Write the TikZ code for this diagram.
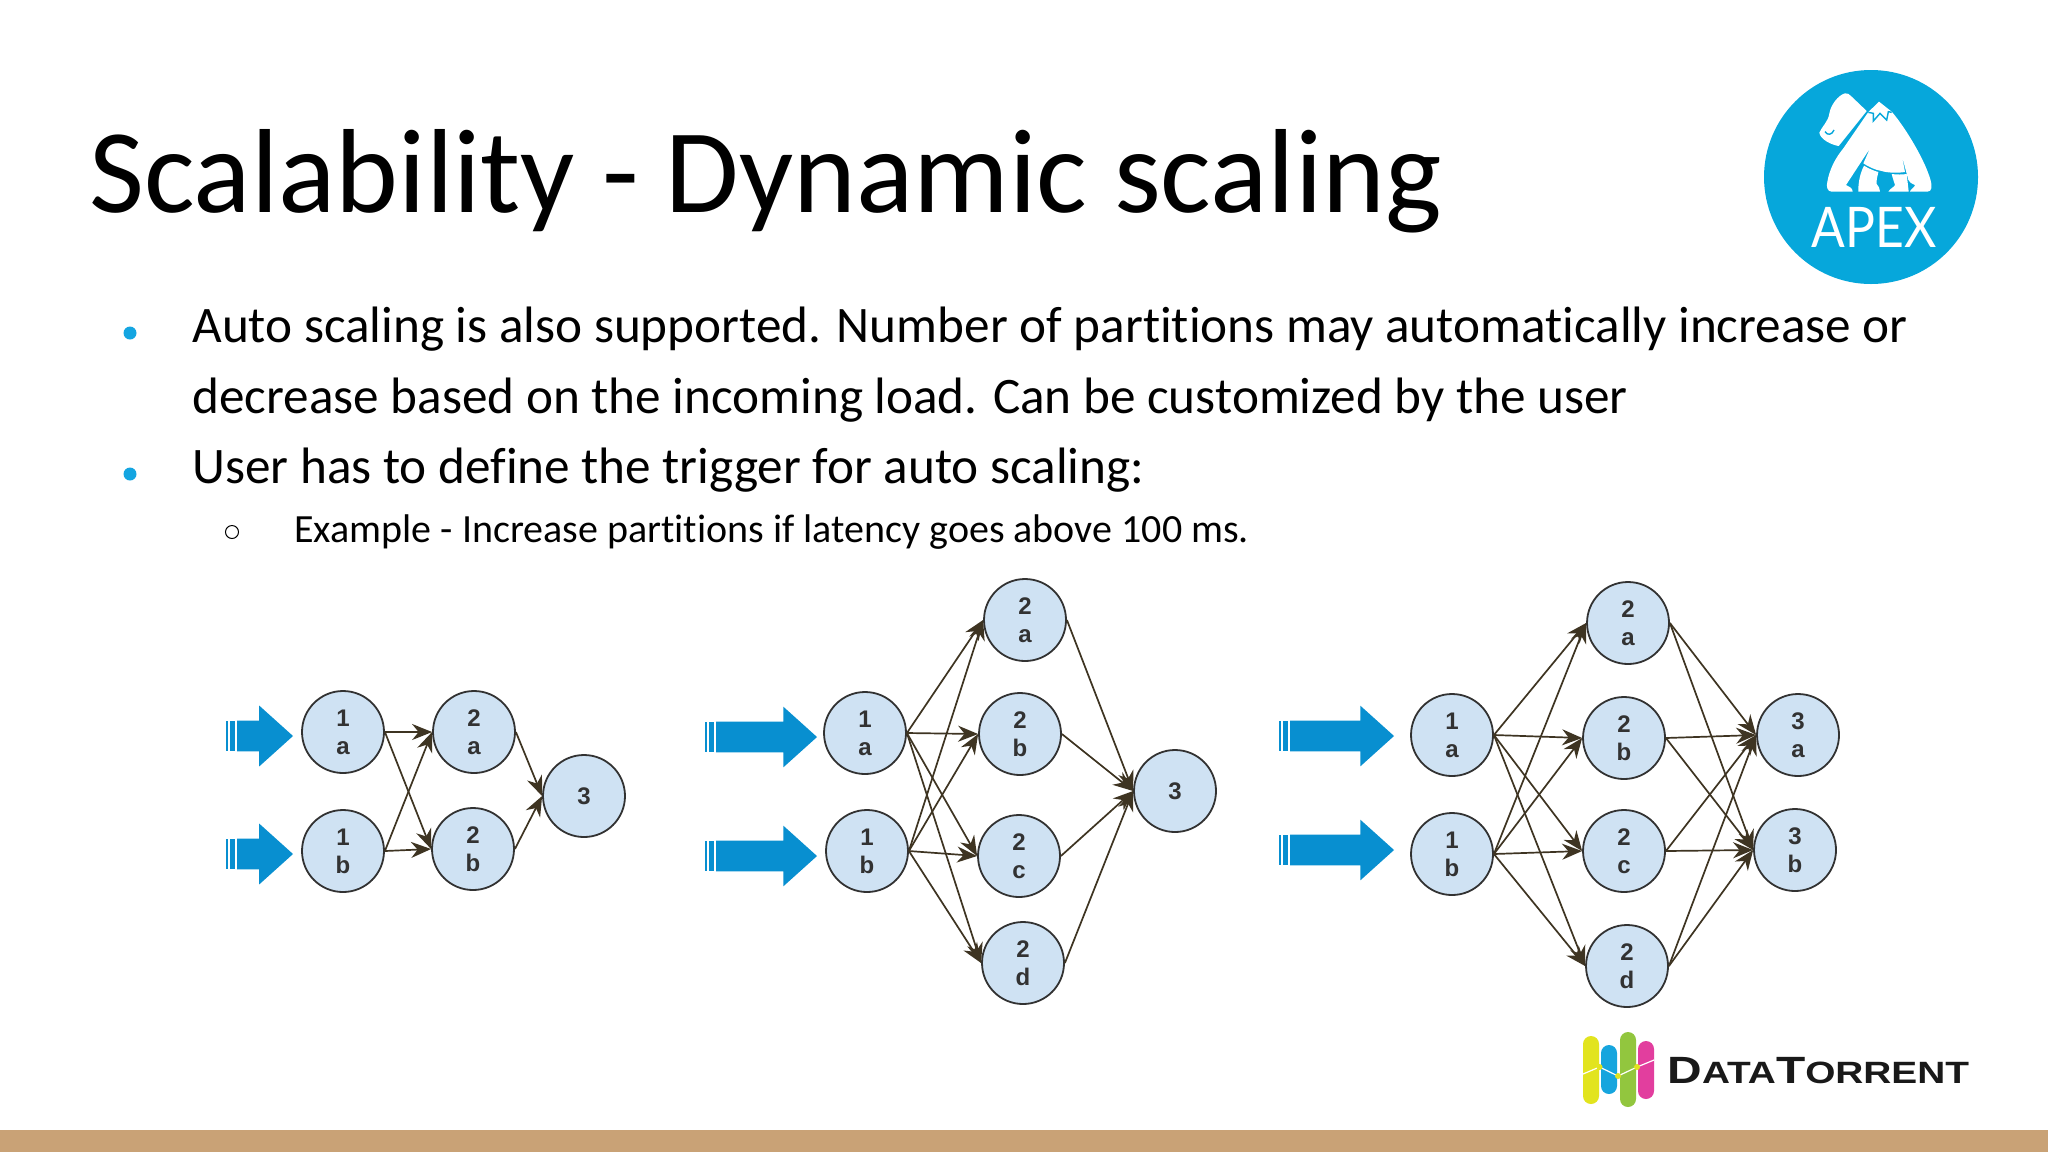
\documentclass[tikz,border=0pt]{standalone}
\usepackage{fontspec}
\setmainfont{Carlito}[Ligatures=NoCommon]
\newfontfamily\circlefont{Liberation Sans}
\newfontfamily\apexfont{Lato}
\usepackage{xcolor}
\usepackage{tikz}
\usetikzlibrary{positioning,arrows.meta,shapes.arrows}
\definecolor{footbrown}{RGB}{201,162,118}
\definecolor{apexblue}{RGB}{6,167,219}
\definecolor{bulletblue}{RGB}{20,165,225}
\definecolor{inflowblue}{RGB}{8,143,208}
\definecolor{nodeblue}{RGB}{207,226,243}
\definecolor{nodeline}{RGB}{50,50,50}
\definecolor{edgebrown}{RGB}{62,52,34}
\definecolor{dtyellow}{RGB}{226,228,30}
\definecolor{dtblue}{RGB}{22,165,222}
\definecolor{dtgreen}{RGB}{146,198,62}
\definecolor{dtpink}{RGB}{226,62,158}
\newcommand{\dtbig}{\fontsize{19}{19}\selectfont}
\newcommand{\dtsmall}{\fontsize{15.4}{15.4}\selectfont}

\begin{document}
\begin{tikzpicture}[
        x=0.5pt, y=-0.5pt,
        titletext/.style={anchor=base west, inner sep=0pt, font=\fontsize{59.8}{60}\selectfont},
        bodytext/.style={anchor=base west, inner sep=0pt, font=\fontsize{25.6}{25.6}\selectfont},
        subtext/.style={anchor=base west, inner sep=0pt, font=\fontsize{20}{20}\selectfont},
        bullet/.style={circle, fill=bulletblue, inner sep=0pt, minimum size=6.5pt},
        subbullet/.style={circle, draw=black, line width=0.5pt, inner sep=0pt, minimum size=6.5pt},
        stage/.style={circle, draw=nodeline, fill=nodeblue, line width=0.9pt, inner sep=0pt, minimum size=41pt,
                     align=center, text=nodeline, font=\circlefont\bfseries\fontsize{12}{14}\selectfont},
        inflow/.style={single arrow, fill=inflowblue, inner sep=0pt, outer sep=0pt, text height=15pt, text depth=0pt,
                      single arrow head extend=7.5pt, single arrow tip angle=84, anchor=tail},
        stripes/.style={rectangle, fill=inflowblue, inner sep=0pt, outer sep=0pt, minimum width=4.4pt, minimum height=15pt,
                       path picture={\draw[white, line width=0.9pt] ([xshift=1.3pt]path picture bounding box.north west) -- ([xshift=1.3pt]path picture bounding box.south west);}},
        flow/.style={-{Stealth[length=10pt,width=8pt]}, line width=0.85pt, draw=edgebrown}
    ]
        \useasboundingbox (0,0) rectangle (2048,1152);
        \fill[white] (0,0) rectangle (2048,1152);
        \fill[footbrown] (0,1130) rectangle (2048,1152);

        % slide text
        \node[titletext] (title) at (89,212) {Scalability - Dynamic scaling};
        \node[bullet] (bulletone) at (130,333) {};
        \node[bodytext] (lineone) at (192,342) {Auto scaling is also supported. Number of partitions may automatically increase or};
        \node[bodytext] (linetwo) at (192,413) {decrease based on the incoming load. Can be customized by the user};
        \node[bullet] (bullettwo) at (130,474) {};
        \node[bodytext] (linethree) at (192,483) {User has to define the trigger for auto scaling:};
        \node[subbullet] (bulletthree) at (232,532) {};
        \node[subtext] (linefour) at (294,542) {Example - Increase partitions if latency goes above 100 ms.};

        % first graph
        \node[stage] (sonea) at (343,732) {1\\a};
        \node[stage] (soneb) at (343,851) {1\\b};
        \node[stage] (stwoa) at (474,732) {2\\a};
        \node[stage] (stwob) at (473,849) {2\\b};
        \node[stage] (sthree) at (584,796) {3};
        \node[inflow, minimum height=28pt] (sina) at (237,736) {};
        \node[inflow, minimum height=28pt] (sinb) at (237,854) {};
        \node[stripes, left=1pt of sina.tail] (sbara) {};
        \node[stripes, left=1pt of sinb.tail] (sbarb) {};
        \draw[flow] (sonea.east) -- (stwoa.west);
        \draw[flow] (sonea.east) -- (stwob.west);
        \draw[flow] (soneb.east) -- (stwoa.west);
        \draw[flow] (soneb.east) -- (stwob.west);
        \draw[flow] (stwoa.east) -- (sthree.west);
        \draw[flow] (stwob.east) -- (sthree.west);

        % second graph
        \node[stage] (monea) at (865,733) {1\\a};
        \node[stage] (moneb) at (867,851) {1\\b};
        \node[stage] (mtwoa) at (1025,620) {2\\a};
        \node[stage] (mtwob) at (1020,734) {2\\b};
        \node[stage] (mtwoc) at (1019,856) {2\\c};
        \node[stage] (mtwod) at (1023,963) {2\\d};
        \node[stage] (mthree) at (1175,791) {3};
        \node[inflow, minimum height=50.5pt] (mina) at (716,737) {};
        \node[inflow, minimum height=50.5pt] (minb) at (716,856) {};
        \node[stripes, left=1pt of mina.tail] (mbara) {};
        \node[stripes, left=1pt of minb.tail] (mbarb) {};
        \draw[flow] (monea.east) -- (mtwoa.west);
        \draw[flow] (monea.east) -- (mtwob.west);
        \draw[flow] (monea.east) -- (mtwoc.west);
        \draw[flow] (monea.east) -- (mtwod.west);
        \draw[flow] (moneb.east) -- (mtwoa.west);
        \draw[flow] (moneb.east) -- (mtwob.west);
        \draw[flow] (moneb.east) -- (mtwoc.west);
        \draw[flow] (moneb.east) -- (mtwod.west);
        \draw[flow] (mtwoa.east) -- (mthree.west);
        \draw[flow] (mtwob.east) -- (mthree.west);
        \draw[flow] (mtwoc.east) -- (mthree.west);
        \draw[flow] (mtwod.east) -- (mthree.west);

        % third graph
        \node[stage] (lonea) at (1452,735) {1\\a};
        \node[stage] (loneb) at (1452,854) {1\\b};
        \node[stage] (ltwoa) at (1628,623) {2\\a};
        \node[stage] (ltwob) at (1624,738) {2\\b};
        \node[stage] (ltwoc) at (1624,851) {2\\c};
        \node[stage] (ltwod) at (1627,966) {2\\d};
        \node[stage] (lthreea) at (1798,735) {3\\a};
        \node[stage] (lthreeb) at (1795,850) {3\\b};
        \node[inflow, minimum height=52pt] (lina) at (1290,736) {};
        \node[inflow, minimum height=52pt] (linb) at (1290,850) {};
        \node[stripes, left=1pt of lina.tail] (lbara) {};
        \node[stripes, left=1pt of linb.tail] (lbarb) {};
        \draw[flow] (lonea.east) -- (ltwoa.west);
        \draw[flow] (lonea.east) -- (ltwob.west);
        \draw[flow] (lonea.east) -- (ltwoc.west);
        \draw[flow] (lonea.east) -- (ltwod.west);
        \draw[flow] (loneb.east) -- (ltwoa.west);
        \draw[flow] (loneb.east) -- (ltwob.west);
        \draw[flow] (loneb.east) -- (ltwoc.west);
        \draw[flow] (loneb.east) -- (ltwod.west);
        \draw[flow] (ltwoa.east) -- (lthreea.west);
        \draw[flow] (ltwoa.east) -- (lthreeb.west);
        \draw[flow] (ltwob.east) -- (lthreea.west);
        \draw[flow] (ltwob.east) -- (lthreeb.west);
        \draw[flow] (ltwoc.east) -- (lthreea.west);
        \draw[flow] (ltwoc.east) -- (lthreeb.west);
        \draw[flow] (ltwod.east) -- (lthreea.west);
        \draw[flow] (ltwod.east) -- (lthreeb.west);

        % apex logo
        \fill[apexblue] (1871,177) circle[radius=107];
        \begin{scope}[shift={(1740,50)}, x=0.16667pt, y=-0.16667pt]
            \fill[white] (315,130) .. controls (295,135) and (272,165) .. (268,190) .. controls (265,215) and (245,230) .. (238,248)
                .. controls (240,268) and (275,285) .. (296,288) -- (380,183) -- (335,140) .. controls (328,133) and (322,128) .. (315,130) -- cycle;
            \fill[white] (385,186) -- (417,155) -- (455,185) .. controls (490,225) and (550,320) .. (570,385) .. controls (578,410) and (575,425) .. (562,425)
                -- (510,425) .. controls (510,418) and (525,412) .. (525,405) .. controls (515,400) and (508,398) .. (505,390) -- (485,315)
                -- (495,366) .. controls (470,370) and (440,368) .. (425,363) .. controls (405,360) and (385,350) .. (370,340)
                -- (390,295) -- (318,405) .. controls (325,410) and (338,412) .. (338,425)
                -- (275,425) .. controls (262,425) and (258,410) .. (262,395) .. controls (268,360) and (285,325) .. (310,295) -- cycle;
            \fill[white] (372,347) .. controls (385,355) and (400,362) .. (415,366) .. controls (412,380) and (408,395) .. (410,402) .. controls (415,408) and (420,415) .. (420,425)
                -- (355,425) .. controls (354,400) and (360,370) .. (372,347) -- cycle;
            \fill[white] (455,372) .. controls (470,374) and (488,374) .. (500,372) -- (506,425)
                -- (445,425) .. controls (450,415) and (462,412) .. (465,405) .. controls (462,395) and (458,385) .. (455,372) -- cycle;
            \draw[apexblue, line width=0.7pt] (385,187) -- (400,190) -- (400,213) -- (420,190) -- (440,210) -- (445,185) -- (455,187);
            \draw[apexblue, line width=0.7pt] (255,245) .. controls (262,257) and (276,255) .. (282,240);
        \end{scope}
        \node[anchor=base, inner sep=0pt, text=white, font=\apexfont\fontsize{28}{28}\selectfont] (apex) at (1874,247) {\scalebox{0.89}[1]{APEX}};

        % datatorrent logo
        \fill[dtyellow, rounded corners=4pt] (1583,1036) rectangle (1599,1104);
        \fill[dtblue, rounded corners=4pt] (1601,1045) rectangle (1617,1094);
        \fill[dtgreen, rounded corners=4pt] (1620,1032) rectangle (1636,1107);
        \fill[dtpink, rounded corners=4pt] (1638,1041) rectangle (1654,1099);
        \draw[white, line width=0.6pt] (1583,1074) -- (1599.5,1067) -- (1618,1076) -- (1637,1067) -- (1654,1060);
        \fill[dtyellow] (1599.5,1067) circle[radius=3] (1618,1076) circle[radius=3] (1637,1067) circle[radius=3];
        \node[anchor=base west, inner sep=0pt, text=black!90, font=\circlefont\bfseries] (datatorrent) at (1667,1083)
            {\scalebox{1.26}[1]{\dtbig D\dtsmall ATA\dtbig T\dtsmall ORRENT}};
    \end{tikzpicture}
\end{document}
